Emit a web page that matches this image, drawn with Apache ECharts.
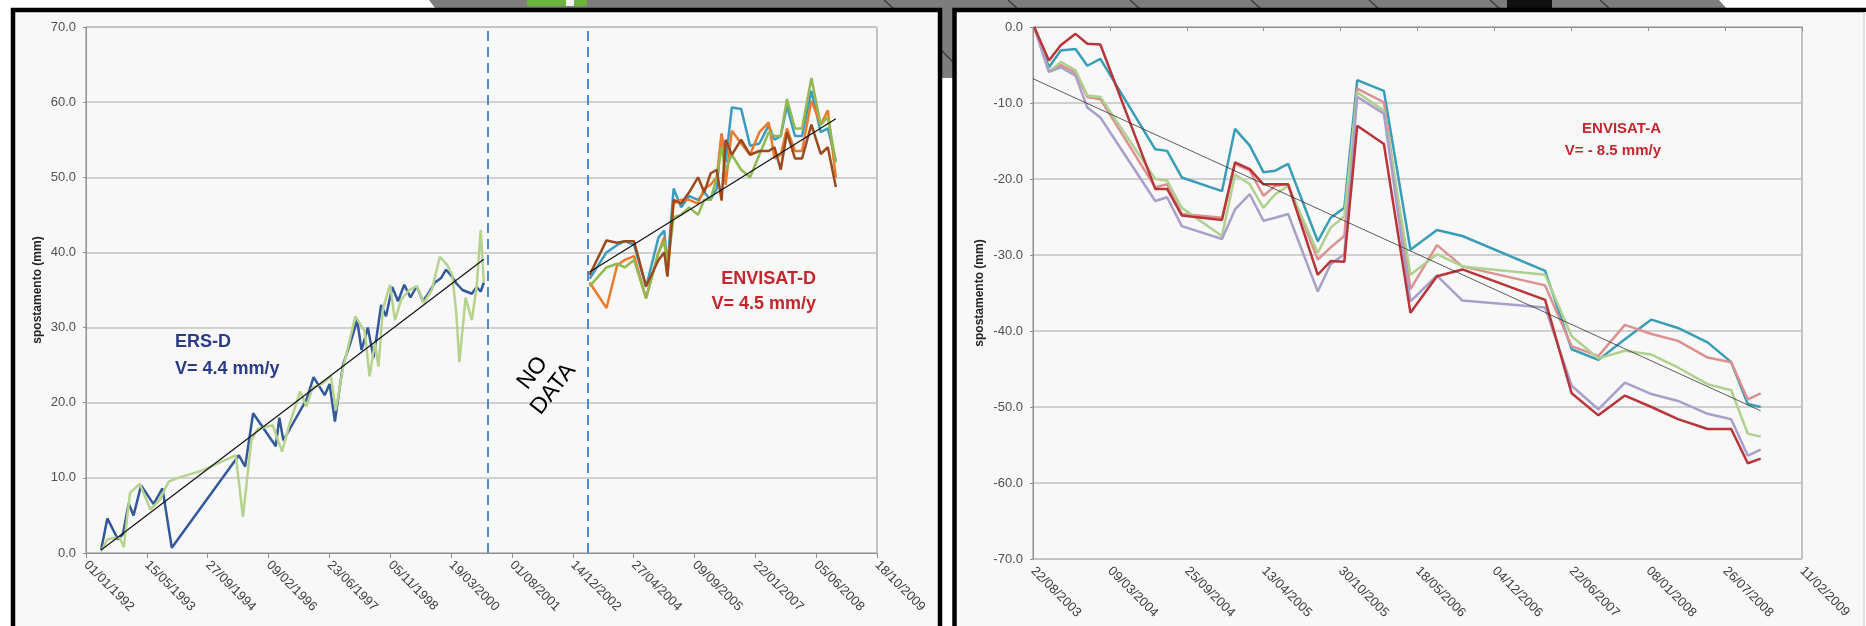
<!DOCTYPE html>
<html>
<head>
<meta charset="utf-8">
<script src="https://cdn.jsdelivr.net/npm/echarts@6/dist/echarts.min.js"></script>
<style>
  html, body { margin: 0; padding: 0; background: #fff; }
  #chart { width: 1866px; height: 626px; }
</style>
</head>
<body>
<div id="chart"></div>
<script>
// dates are decimal years, values are mm

// ERS-D (descending), two points
const ersBlueDates = [1992.34, 1992.48, 1992.72, 1992.83, 1992.96, 1993.07, 1993.24, 1993.52, 1993.72, 1993.93,
    1995.44, 1995.58, 1995.76, 1996.27, 1996.35, 1996.44, 1996.68, 1996.96, 1997.12, 1997.37,
    1997.48, 1997.60, 1997.78, 1997.95, 1998.10, 1998.20, 1998.34, 1998.47, 1998.64, 1998.75,
    1998.89, 1999.02, 1999.16, 1999.30, 1999.44, 1999.58, 1999.71, 1999.85, 1999.99, 2000.10,
    2000.22, 2000.33, 2000.47, 2000.68, 2000.79, 2000.88, 2000.95];
const ersBlue = [0.4, 4.6, 1.8, 2.5, 6.6, 5.0, 9.0, 6.5, 8.6, 0.7,
    13.0, 11.5, 18.6, 14.2, 18.0, 15.0, 17.5, 20.4, 23.4, 21.0,
    22.5, 17.5, 25.0, 28.0, 31.0, 27.0, 30.0, 26.0, 33.0, 31.5,
    35.4, 33.5, 35.7, 34.0, 35.5, 33.5, 34.6, 36.0, 36.6, 37.7,
    36.9, 35.9, 35.0, 34.5, 35.4, 34.8, 36.0];

const ersGreenDates = [1992.34, 1992.48, 1992.62, 1992.76, 1992.85, 1992.99, 1993.21, 1993.45, 1993.65, 1993.86,
    1994.07, 1994.62, 1995.37, 1995.53, 1995.72, 1995.86, 1996.20, 1996.41, 1996.57, 1996.82,
    1996.96, 1997.10, 1997.30, 1997.51, 1997.62, 1997.78, 1998.06, 1998.27, 1998.38, 1998.50,
    1998.58, 1998.68, 1998.84, 1998.95, 1999.09, 1999.27, 1999.44, 1999.60, 1999.78, 1999.96,
    2000.13, 2000.24, 2000.33, 2000.40, 2000.54, 2000.68, 2000.79, 2000.88, 2000.95];
const ersGreen = [0.2, 1.8, 2.0, 2.0, 0.8, 8.0, 9.2, 5.8, 7.0, 9.5,
    10.0, 11.0, 13.0, 4.8, 15.0, 16.5, 17.0, 13.5, 17.0, 21.5,
    19.5, 22.0, 22.5, 23.5, 19.0, 24.5, 31.5, 29.5, 23.5, 28.0,
    24.8, 32.5, 35.7, 31.0, 33.7, 35.0, 35.5, 33.3, 35.0, 39.4,
    38.3, 37.0, 32.0, 25.4, 34.0, 31.0, 35.5, 43.0, 36.0];

const ersTrendDates = [1992.34, 2000.95];
const ersTrend = [0.4, 39.1];

// gap without acquisitions
const noDataEdges = [2001.04, 2003.29];

// ENVISAT-D (descending), four points
const envDDates = [2003.33, 2003.71, 2003.95, 2004.12, 2004.33, 2004.60, 2004.88, 2005.01, 2005.08, 2005.22,
    2005.39, 2005.57, 2005.77, 2005.91, 2006.05, 2006.19, 2006.30, 2006.39, 2006.53, 2006.74,
    2006.94, 2007.15, 2007.36, 2007.49, 2007.63, 2007.77, 2007.95, 2008.11, 2008.32, 2008.53,
    2008.69, 2008.87];
const envDTeal = [36.5, 40.0, 41.0, 41.5, 41.0, 35.4, 42.0, 42.9, 38.0, 48.5,
    46.0, 47.5, 47.0, 48.0, 47.0, 48.5, 55.8, 52.0, 59.3, 59.1,
    54.2, 54.5, 56.9, 55.0, 55.5, 59.5, 55.5, 55.5, 61.5, 56.0,
    56.5, 52.2];
const envDOrange = [36.0, 32.6, 38.3, 39.0, 39.5, 33.9, 40.0, 42.0, 36.8, 46.5,
    47.0, 47.0, 46.5, 48.5, 49.0, 50.0, 55.8, 49.0, 56.2, 54.5,
    53.0, 56.0, 57.3, 52.5, 53.0, 56.5, 53.5, 53.5, 60.2, 57.0,
    58.9, 50.0];
const envDGreen = [35.5, 38.0, 38.5, 38.0, 39.0, 33.9, 40.0, 41.5, 38.0, 44.7,
    45.0, 46.0, 45.0, 47.0, 47.0, 50.0, 54.0, 51.0, 53.0, 51.0,
    50.0, 53.0, 56.0, 55.5, 55.5, 60.4, 56.5, 56.5, 63.2, 57.0,
    58.0, 52.0];
const envDBrown = [37.0, 41.6, 41.3, 41.5, 41.5, 35.5, 39.0, 40.0, 36.8, 47.0,
    46.5, 48.0, 50.0, 48.0, 50.5, 51.0, 46.9, 55.0, 53.0, 55.0,
    53.0, 53.5, 53.5, 54.0, 51.0, 56.0, 52.5, 52.5, 57.0, 53.1,
    54.0, 48.7];
const envDTrendDates = [2003.33, 2008.87];
const envDTrend = [37.4, 57.8];

// ENVISAT-A (ascending), five points
const envADates = [2003.648, 2003.753, 2003.837, 2003.942, 2004.026, 2004.119, 2004.510, 2004.594, 2004.699, 2004.985,
    2005.078, 2005.183, 2005.280, 2005.364, 2005.456, 2005.667, 2005.759, 2005.856, 2005.948, 2006.138,
    2006.327, 2006.516, 2006.697, 2007.286, 2007.475, 2007.665, 2007.854, 2008.043, 2008.232, 2008.443,
    2008.611, 2008.729, 2008.821];
const envATeal = [0, -5.3, -3.1, -2.9, -5.1, -4.2, -16.1, -16.3, -19.8, -21.6,
    -13.4, -15.6, -19.1, -18.9, -18.0, -28.2, -25.1, -23.8, -7.0, -8.4,
    -29.3, -26.7, -27.5, -32.1, -42.4, -43.8, -41.1, -38.5, -39.6, -41.5,
    -44.1, -49.6, -50.0];
const envAPink = [0, -5.8, -5.0, -6.0, -9.2, -9.5, -21.1, -20.7, -24.6, -25.1,
    -18.0, -18.9, -22.2, -20.9, -20.7, -30.6, -29.0, -27.5, -8.1, -9.9,
    -34.5, -28.7, -31.5, -34.0, -42.0, -43.3, -39.2, -40.4, -41.3, -43.5,
    -44.1, -49.0, -48.2];
const envAGreen = [0, -5.9, -4.6, -5.7, -9.0, -9.2, -20.0, -20.2, -23.8, -27.5,
    -19.4, -20.7, -23.8, -22.0, -20.9, -29.7, -26.4, -24.9, -8.6, -11.0,
    -32.6, -29.9, -31.5, -32.6, -40.7, -43.6, -42.6, -43.1, -44.8, -47.0,
    -47.8, -53.5, -53.9];
const envAPurple = [0, -5.9, -5.3, -6.4, -10.6, -11.9, -22.9, -22.4, -26.2, -27.9,
    -24.0, -22.0, -25.5, -25.1, -24.6, -34.8, -31.2, -29.9, -9.2, -11.4,
    -36.1, -32.7, -36.0, -36.9, -47.2, -50.3, -46.8, -48.3, -49.2, -50.9,
    -51.6, -56.4, -55.6];
const envARed = [0, -4.4, -2.4, -0.9, -2.2, -2.3, -21.3, -21.3, -24.8, -25.4,
    -17.8, -18.7, -20.7, -20.7, -20.7, -32.6, -30.8, -30.9, -13.0, -15.4,
    -37.6, -32.8, -31.9, -35.9, -48.2, -51.1, -48.5, -50.0, -51.6, -52.9,
    -52.9, -57.4, -56.8];
const envATrendDates = [2003.639, 2008.821];
const envATrend = [-6.8, -50.5];

// axes: day offsets from first tick
const leftBase = Date.UTC(1992, 0, 1);
const rightBase = Date.UTC(2003, 7, 22);
const leftStartYear = 1992;
const rightStartYear = 2003.6394;

const labelFont = '"Liberation Sans", Arial, sans-serif';
const gridColor = '#c3c3c3';
const frameColor = '#8f8f8f';

function pad(n) {
    return n < 10 ? '0' + n : '' + n;
}

function dateLabel(base) {
    return (v) => {
        const d = new Date(base + Math.round(v) * 864e5);
        return `${pad(d.getUTCDate())}/${pad(d.getUTCMonth() + 1)}/${d.getUTCFullYear()}`;
    };
}

function toPairs(dates, vals, startYear) {
    return dates.map((y, i) => [(y - startYear) * 365.25, vals[i]]);
}

function line(dates, vals, startYear, axis, color, width, z) {
    return {
        type: 'line',
        xAxisIndex: axis,
        yAxisIndex: axis ? 1 : 0,
        data: toPairs(dates, vals, startYear),
        showSymbol: false,
        symbol: 'none',
        z: z,
        lineStyle: { color: color, width: width },
        animation: false,
    };
}

function xAxisBase(grid, max, interval, base) {
    return {
        type: 'value',
        gridIndex: grid,
        min: 0,
        max: max,
        interval: interval,
        axisLine: { show: true, lineStyle: { color: frameColor, width: 1 } },
        axisTick: { show: true, length: 5, lineStyle: { color: frameColor } },
        axisLabel: {
            rotate: -45,
            margin: 10,
            color: '#404040',
            fontSize: 13,
            fontFamily: labelFont,
            showMinLabel: true,
            showMaxLabel: true,
            formatter: dateLabel(base),
        },
        splitLine: { show: false },
    };
}

function yAxisBase(grid, min, max, gap) {
    return {
        type: 'value',
        gridIndex: grid,
        min: min,
        max: max,
        interval: 10,
        name: 'spostamento (mm)',
        nameLocation: 'middle',
        nameRotate: 90,
        nameGap: gap,
        nameTextStyle: { fontSize: 12, fontWeight: 'bold', color: '#262626', fontFamily: labelFont },
        axisLine: { show: true, lineStyle: { color: frameColor } },
        axisTick: { show: true, length: 3, lineStyle: { color: frameColor } },
        axisLabel: {
            color: '#505050',
            fontSize: 13,
            margin: 10,
            fontFamily: labelFont,
            formatter: (v) => v.toFixed(1),
        },
        splitLine: { show: true, lineStyle: { color: gridColor, width: 1.5 } },
    };
}

const roofLines = [884, 1008, 1130, 1251, 1369, 1490, 1600].map((x) => ({
    type: 'line',
    z: -5,
    shape: { x1: x, y1: 0, x2: x + 10, y2: 9 },
    style: { stroke: '#3c3c3c', lineWidth: 1.5 },
}));

function note(x, y, text, size, color, align, lh) {
    return {
        type: 'text',
        z: 50,
        x: x,
        y: y,
        style: {
            text: text,
            font: `bold ${size}px ${labelFont}`,
            fill: color,
            lineHeight: lh,
            textAlign: align,
            align: align,
            textVerticalAlign: 'middle',
            verticalAlign: 'middle',
        },
    };
}

const chart = echarts.init(document.getElementById('chart'));

chart.setOption({
    animation: false,
    backgroundColor: '#ffffff',
    grid: [
        { left: 86, top: 27, width: 791, height: 526, show: true, borderColor: frameColor, borderWidth: 1, backgroundColor: 'transparent' },
        { left: 1033, top: 27, width: 769, height: 532, show: true, borderColor: frameColor, borderWidth: 1, backgroundColor: 'transparent' },
    ],
    xAxis: [
        xAxisBase(0, 6500, 500, leftBase),
        Object.assign(xAxisBase(1, 2000, 200, rightBase), { position: 'bottom', axisTick: { show: false } }),
        Object.assign(xAxisBase(1, 2000, 200, rightBase), {
            position: 'top',
            axisLabel: { show: false },
            axisTick: { show: true, inside: true, length: 4, lineStyle: { color: frameColor } },
        }),
    ],
    yAxis: [
        yAxisBase(0, 0, 70, 42),
        yAxisBase(1, -70, 0, 47),
    ],
    series: [
        // ERS-D
        line(ersBlueDates, ersBlue, leftStartYear, 0, '#33599b', 2.5, 3),
        line(ersGreenDates, ersGreen, leftStartYear, 0, '#b5d28e', 2.5, 4),
        Object.assign(line(ersTrendDates, ersTrend, leftStartYear, 0, '#111111', 1.2, 8), {
            markLine: {
                symbol: 'none',
                silent: true,
                label: { show: false },
                lineStyle: { type: [10, 6], color: '#5489c9', width: 2 },
                data: noDataEdges.map((y) => ({ xAxis: (y - leftStartYear) * 365.25 })),
            },
        }),
        // ENVISAT-D
        line(envDDates, envDTeal, leftStartYear, 0, '#3a9cbf', 2.5, 3),
        line(envDDates, envDOrange, leftStartYear, 0, '#ea7a2e', 2.5, 4),
        line(envDDates, envDGreen, leftStartYear, 0, '#92b950', 2.5, 5),
        line(envDDates, envDBrown, leftStartYear, 0, '#9b4a1e', 2.5, 6),
        line(envDTrendDates, envDTrend, leftStartYear, 0, '#111111', 1.2, 8),
        // ENVISAT-A
        line(envADates, envATeal, rightStartYear, 1, '#3a9db6', 2.5, 3),
        line(envADates, envAPink, rightStartYear, 1, '#dc9190', 2.5, 4),
        line(envADates, envAGreen, rightStartYear, 1, '#afd08f', 2.5, 5),
        line(envADates, envAPurple, rightStartYear, 1, '#aa9ecb', 2.5, 6),
        line(envADates, envARed, rightStartYear, 1, '#b8353a', 2.5, 7),
        line(envATrendDates, envATrend, rightStartYear, 1, '#333333', 0.8, 8),
    ],
    graphic: [
        // photo strip behind the panels
        {
            type: 'polygon',
            z: -6,
            shape: { points: [[429, 0], [1719, 0], [1727, 9], [1727, 78], [435, 78], [435, 8]] },
            style: { fill: '#7d7d7d' },
        },
        ...roofLines,
        { type: 'line', z: -5, shape: { x1: 941, y1: 50, x2: 955, y2: 64 }, style: { stroke: '#3c3c3c', lineWidth: 1.5 } },
        { type: 'rect', z: -5, shape: { x: 527, y: 0, width: 60, height: 6 }, style: { fill: '#6cb33e' } },
        { type: 'rect', z: -5, shape: { x: 566, y: 0, width: 8, height: 6 }, style: { fill: '#f2f2f2' } },
        { type: 'rect', z: -5, shape: { x: 1507, y: 0, width: 45, height: 8 }, style: { fill: '#111111' } },
        // panels
        {
            type: 'rect',
            z: -2,
            shape: { x: 13, y: 10, width: 927, height: 640 },
            style: { fill: '#f8f8f8', stroke: '#000000', lineWidth: 4.5 },
        },
        {
            type: 'rect',
            z: -2,
            shape: { x: 954.5, y: 10, width: 960, height: 640 },
            style: { fill: '#f8f8f8', stroke: '#000000', lineWidth: 4.5 },
        },
        { type: 'line', z: -1, shape: { x1: 1864, y1: 12, x2: 1864, y2: 626 }, style: { stroke: '#c8c8c8', lineWidth: 1 } },
        { type: 'rect', z: -1, shape: { x: 1865, y: 12, width: 5, height: 620 }, style: { fill: '#ffffff' } },
        // annotations
        note(175, 356, 'ERS-D\nV= 4.4 mm/y', 18, '#2b3b86', 'left', 27),
        note(816, 292, 'ENVISAT-D\nV= 4.5 mm/y', 18, '#c3272e', 'right', 25),
        note(1661, 140, 'ENVISAT-A\nV= - 8.5 mm/y', 15, '#c3272e', 'right', 22),
        {
            type: 'text',
            z: 50,
            x: 543,
            y: 381,
            rotation: 52 * Math.PI / 180,
            style: {
                text: 'NO\nDATA',
                font: `23px ${labelFont}`,
                fill: '#000000',
                lineHeight: 26,
                textAlign: 'center',
                align: 'center',
                textVerticalAlign: 'middle',
                verticalAlign: 'middle',
            },
        },
    ],
});
</script>
</body>
</html>
